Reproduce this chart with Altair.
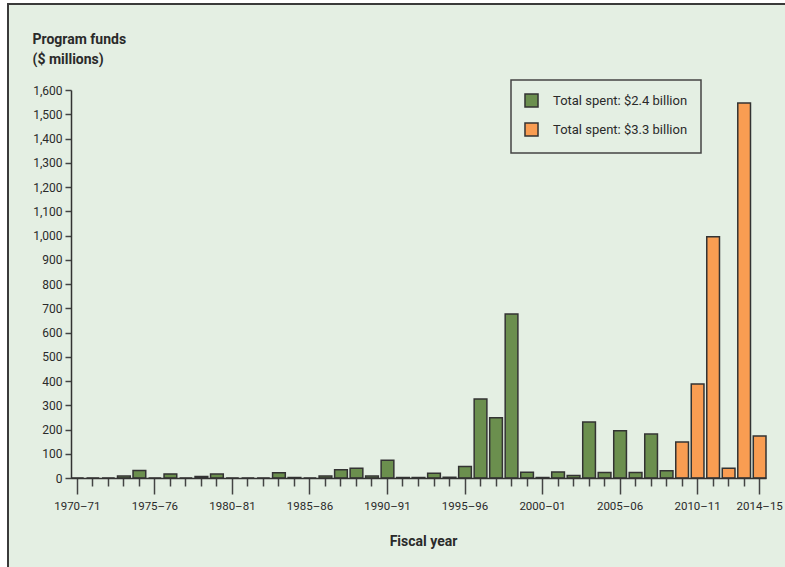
import altair as alt
import pandas as pd

years = [
    "1970–71", "1971–72", "1972–73", "1973–74", "1974–75",
    "1975–76", "1976–77", "1977–78", "1978–79", "1979–80",
    "1980–81", "1981–82", "1982–83", "1983–84", "1984–85",
    "1985–86", "1986–87", "1987–88", "1988–89", "1989–90",
    "1990–91", "1991–92", "1992–93", "1993–94", "1994–95",
    "1995–96", "1996–97", "1997–98", "1998–99", "1999–00",
    "2000–01", "2001–02", "2002–03", "2003–04", "2004–05",
    "2005–06", "2006–07", "2007–08", "2008–09", "2009–10",
    "2010–11", "2011–12", "2012–13", "2013–14", "2014–15",
]
funds = [
    0, 0, 0, 8, 31,
    0, 17, 0, 6, 16,
    0, 0, 0, 22, 2,
    0, 8, 34, 40, 8,
    73, 2, 2, 20, 3,
    47, 326, 248, 676, 24,
    2, 25, 10, 231, 23,
    195, 23, 181, 30, 148,
    388, 995, 40, 1546, 173,
]
series_names = ["Total spent: $2.4 billion", "Total spent: $3.3 billion"]
series_of_year = [series_names[0]] * 39 + [series_names[1]] * 6
labelled_years = ["1970–71", "1975–76", "1980–81", "1985–86", "1990–91",
                  "1995–96", "2000–01", "2005–06", "2010–11", "2014–15"]
y_ticks = list(range(0, 1700, 100))

df = pd.DataFrame({"year": years, "funds": funds, "series": series_of_year})

FONT = "Roboto"
TXT = "#2a2a2a"
BG = "#E4EFE3"
GREEN = "#6B8F4E"
ORANGE = "#F99D52"

in_set = "indexof([" + ",".join("'" + y + "'" for y in labelled_years) + "], datum.value) >= 0"

frame = alt.Chart(alt.Data(values=[{}])).mark_rect(
    fill=BG, stroke="#3a3a3a", strokeWidth=2
).encode(
    x=alt.value(-63), x2=alt.value(730), y=alt.value(-86), y2=alt.value(520)
)

bars = alt.Chart(df).mark_bar(stroke="#333333", strokeWidth=1.5).encode(
    x=alt.X(
        "year:N",
        sort=years,
        scale=alt.Scale(paddingInner=0.18, paddingOuter=0.0),
        axis=alt.Axis(
            title="Fiscal year",
            titleFont=FONT, titleFontSize=14, titleFontWeight="bold", titleColor=TXT,
            titleX=352, titleY=67, titleBaseline="alphabetic",
            labelAngle=0, labelFont=FONT, labelFontSize=11.5, labelColor=TXT,
            labelExpr=in_set + " ? datum.value : ''",
            labelPadding=6, labelOverlap=False,
            tickSize={"condition": {"test": in_set, "value": 16}, "value": 8},
            tickColor="#444444", tickWidth=1.5,
            domainColor="#333333", domainWidth=1.5, zindex=1,
        ),
    ),
    y=alt.Y(
        "funds:Q",
        scale=alt.Scale(domain=[0, 1600], nice=False),
        axis=alt.Axis(
            title=["Program funds", "($ millions)"],
            titleFont=FONT, titleFontSize=14, titleFontWeight="bold", titleColor=TXT,
            titleAngle=0, titleAlign="left", titleBaseline="alphabetic",
            titleX=-39, titleY=-47, titleLineHeight=20,
            values=y_ticks, format=",d",
            labelFont=FONT, labelFontSize=12, labelColor=TXT, labelPadding=3,
            tickSize=6, tickColor="#444444", tickWidth=1.5,
            domainColor="#333333", domainWidth=1.5, grid=False, zindex=1,
        ),
    ),
    color=alt.Color(
        "series:N",
        scale=alt.Scale(domain=series_names, range=[GREEN, ORANGE]),
        legend=alt.Legend(
            title=None, orient="none", legendX=440, legendY=-10,
            padding=13, strokeColor="#444444", fillColor=BG,
            symbolType="square", symbolSize=170, symbolStrokeColor="#333333",
            symbolStrokeWidth=1.5, symbolOpacity=1,
            labelFont=FONT, labelFontSize=13, labelColor=TXT,
            labelOffset=14, rowPadding=8,
        ),
    ),
)

chart = alt.layer(frame, bars).properties(
    width=695, height=388,
    autosize=alt.AutoSizeParams(type="none"),
    padding={"left": 71, "top": 90, "right": 19, "bottom": 89},
    background="white",
).configure_view(stroke=None).configure_legend(strokeWidth=1.5)

chart.save("out.html", embed_options={"renderer": "svg", "actions": False})
